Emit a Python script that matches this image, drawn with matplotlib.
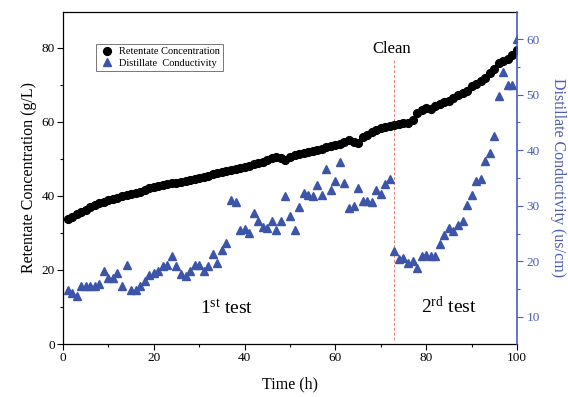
import numpy as np
from matplotlib import pyplot as plt
from matplotlib import rcParams
from matplotlib.ticker import MultipleLocator

rcParams["font.family"] = ["Liberation Serif", "DejaVu Serif"]
rcParams["mathtext.fontset"] = "custom"
rcParams["mathtext.rm"] = "Liberation Serif"
rcParams["mathtext.it"] = "Liberation Serif:italic"

BLUE = "#3d55a8"
AXIS_BLUE = "#4b5eb4"

# hourly readings
time_h = np.arange(1, 101)

retentate = [
    33.9, 34.4, 35.0, 35.7, 36.3, 36.9, 37.5, 38.0, 38.4, 38.8,
    39.2, 39.5, 39.9, 40.2, 40.4, 40.8, 41.2, 41.7, 42.1, 42.4,
    42.6, 42.9, 43.2, 43.4, 43.5, 43.8, 44.1, 44.3, 44.6, 44.9,
    45.2, 45.5, 45.8, 46.1, 46.4, 46.7, 47.0, 47.3, 47.6, 47.9,
    48.2, 48.5, 48.9, 49.3, 49.8, 50.2, 50.5, 50.3, 49.8, 50.6,
    51.0, 51.3, 51.6, 51.9, 52.2, 52.5, 52.8, 53.1, 53.4, 53.7,
    54.1, 54.6, 55.0, 54.6, 54.4, 55.9, 56.6, 57.2, 57.8, 58.3,
    58.7, 58.9, 59.3, 59.5, 59.6, 59.8, 60.5, 62.4, 63.3, 63.8,
    63.6, 64.2, 64.8, 65.3, 65.7, 66.5, 67.3, 67.8, 68.4, 69.6,
    70.2, 71.0, 72.0, 73.2, 74.3, 76.0, 76.5, 77.0, 78.2, 79.3,
]

conductivity = [
    14.9, 14.4, 13.7, 15.6, 15.5, 15.5, 15.6, 15.9, 18.3, 17.1,
    17.0, 17.9, 15.5, 19.4, 14.9, 14.9, 15.6, 16.4, 17.6, 17.9,
    18.3, 19.1, 19.4, 21.0, 19.1, 17.7, 17.4, 18.3, 19.4, 19.4,
    18.3, 19.2, 21.3, 19.7, 22.1, 23.3, 31.1, 30.6, 25.7, 25.8,
    25.1, 28.7, 27.2, 26.2, 26.0, 27.2, 25.7, 27.2, 31.7, 28.2,
    25.7, 29.7, 32.3, 32.0, 31.7, 33.8, 32.0, 36.6, 32.9, 34.5,
    37.8, 34.1, 29.6, 29.9, 33.2, 30.9, 30.9, 30.6, 32.9, 32.1,
    33.9, 34.8, 21.8, 20.4, 20.6, 19.7, 20.1, 18.8, 20.9, 21.2,
    20.9, 21.0, 23.1, 24.8, 26.0, 25.4, 26.6, 27.3, 30.2, 32.0,
    34.4, 34.8, 38.1, 39.5, 42.5, 49.7, 54.0, 51.8, 51.8, 60.0,
]

clean_time = 73

fig = plt.figure(figsize=(5.68, 3.97), dpi=100)
ax = fig.add_axes([0.1109, 0.1335, 0.7993, 0.8363])
ax2 = ax.twinx()

ax.plot(time_h, retentate, "o", color="black", markersize=5.6,
        label="Retentate Concentration", zorder=3)
ax2.plot(time_h, conductivity, "^", color=BLUE, markersize=6.4,
         label="Distillate  Conductivity", zorder=2)

ax.vlines(clean_time, 1.0, 77.0, colors="#e87a7a", linestyles=(0, (3, 2)),
          linewidth=0.7)
ax.text(clean_time - 0.5, 77.6, "Clean", ha="center", va="bottom", fontsize=12)
ax.text(36, 9.5, r"1$^{\rm st}$ test", ha="center", va="center", fontsize=14)
ax.text(85, 10.2, r"2$^{\rm rd}$ test", ha="center", va="center", fontsize=14)

ax.set_xlim(0, 100)
ax.set_ylim(0, 89.7)
ax2.set_ylim(5.14, 64.86)

ax.xaxis.set_major_locator(MultipleLocator(20))
ax.xaxis.set_minor_locator(MultipleLocator(10))
ax.yaxis.set_major_locator(MultipleLocator(20))
ax.yaxis.set_minor_locator(MultipleLocator(10))
ax2.yaxis.set_major_locator(MultipleLocator(10))
ax2.yaxis.set_minor_locator(MultipleLocator(5))

ax.tick_params(which="major", direction="out", length=4, width=0.8,
               labelsize=9.5, pad=2)
ax.tick_params(which="minor", direction="out", length=2.5, width=0.8)
ax2.tick_params(which="major", direction="out", length=4, width=0.8,
                labelsize=9.5, colors=AXIS_BLUE, pad=3)
ax2.tick_params(which="minor", direction="out", length=2.5, width=0.8,
                colors=AXIS_BLUE)

ax.set_xlabel("Time (h)", fontsize=11.5, labelpad=9)
ax.set_ylabel("Retentate Concentration (g/L)", fontsize=11.5, labelpad=3)
ax2.set_ylabel("Distillate Conductivity (us/cm)", fontsize=11.5,
               color=AXIS_BLUE, rotation=270, labelpad=19)

for side in ("left", "top", "bottom"):
    ax.spines[side].set_linewidth(0.9)
ax2.spines["left"].set_visible(False)
ax2.spines["top"].set_visible(False)
ax2.spines["bottom"].set_visible(False)
ax.spines["right"].set_visible(False)
ax2.spines["right"].set_color(AXIS_BLUE)
ax2.spines["right"].set_linewidth(1.2)

h1, l1 = ax.get_legend_handles_labels()
h2, l2 = ax2.get_legend_handles_labels()
leg = ax2.legend(h1 + h2, l1 + l2, loc="upper left",
                 bbox_to_anchor=(0.073, 0.904), fontsize=7.5, fancybox=False,
                 edgecolor="#777777", framealpha=1, borderpad=0.3,
                 handletextpad=0.5, handlelength=1.4, labelspacing=0.2,
                 borderaxespad=0)
leg.get_frame().set_linewidth(0.7)

fig.savefig("out.png", dpi=100, facecolor="white")
